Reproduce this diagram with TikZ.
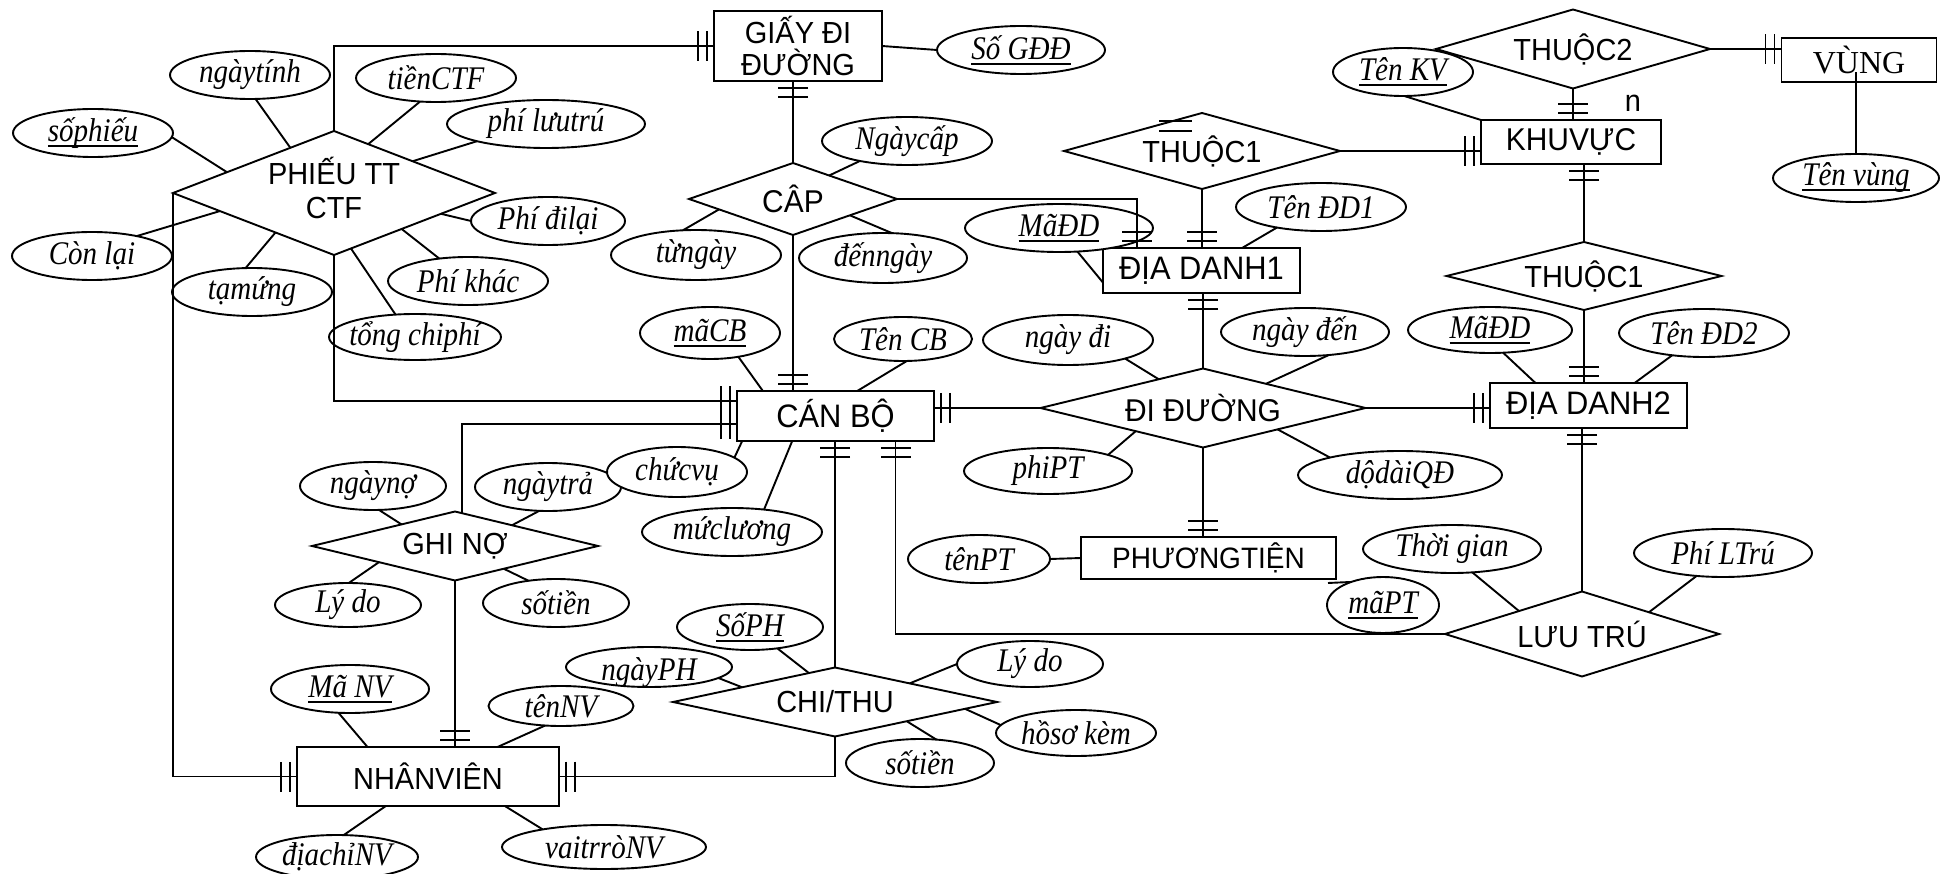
\documentclass[tikz,border=0pt]{standalone}
\usepackage{fontspec}
\setmainfont{Liberation Serif}
\setsansfont{Liberation Sans}
\newfontfamily\attrfont{Liberation Serif}[FakeStretch=0.88]
\newfontfamily\entfont{Liberation Sans}[FakeStretch=0.95]
\usetikzlibrary{shapes.geometric,decorations.markings,calc}

% attribute labels: zero width so the ellipse size comes from the options only
\newcommand\attrtxt[1]{\makebox[0pt]{#1}}
% key attributes: underlined with a heavy rule
\newcommand\keytxt[1]{\makebox[0pt]{\setbox0=\hbox{#1}\rlap{\vrule width\wd0 height -3.5pt depth 5.5pt}\box0}}
\newcommand\reltxt[1]{\makebox[0pt]{#1}}

\tikzset{
  every node/.style={inner sep=0pt, outer sep=0pt},
  sz/.style 2 args={minimum width=#1pt, minimum height=#2pt},
  ent/.style={draw, rectangle, fill=white, font=\entfont\fontsize{31.5}{33}\selectfont},
  rel/.style={draw, diamond, fill=white, font=\entfont\fontsize{30.5}{34}\selectfont},
  attr/.style={draw, ellipse, fill=white, font=\attrfont\itshape\fontsize{33}{35}\selectfont},
  mand/.style={postaction={decorate,decoration={markings,
      mark=at position -16pt with {\draw[line width=1.9pt] (0pt,-15pt) -- (0pt,15pt);},
      mark=at position -7pt with {\draw[line width=1.9pt] (0pt,-15pt) -- (0pt,15pt);}}}}
}

\begin{document}
\begin{tikzpicture}[x=1pt, y=-1pt, line width=1.9pt]
\useasboundingbox (0,0) rectangle (1952,874);
\clip (0,0) rectangle (1952,874);

% ---------- entities ----------
\node[ent, sz={168}{70}, align=center, font=\entfont\fontsize{30.5}{32}\selectfont] (G) at (798,46) {GIẤY ĐI\\ĐƯỜNG};
\node[ent, sz={197}{50}, font=\entfont\fontsize{32.5}{34}\selectfont] (CB) at (835.5,416) {CÁN BỘ};
\node[ent, sz={197}{45}, font=\entfont\fontsize{32.5}{34}\selectfont] (D1) at (1201.5,270.5) {ĐỊA DANH1};
\node[ent, sz={180}{44}] (K) at (1571,142) {KHUVỰC};
\node[ent, sz={155}{44}, font=\rmfamily\fontsize{32}{34}\selectfont] (V) at (1859,60) {VÙNG};
\node[ent, sz={197}{45}, font=\entfont\fontsize{32.5}{34}\selectfont] (D2) at (1588.5,405.5) {ĐỊA DANH2};
\node[ent, sz={255}{42}, font=\entfont\fontsize{29.5}{32}\selectfont] (PT) at (1208.5,558) {PHƯƠNGTIỆN};
\node[ent, sz={262}{59}, font=\entfont\fontsize{30.5}{32}\selectfont] (NV) at (428,776.5) {NHÂNVIÊN};

% ---------- relationships ----------
\node[rel, sz={322}{124}] (PH) at (334,193)
  {\reltxt{\renewcommand\arraystretch{1}\begin{tabular}{@{}c@{}}PHIẾU TT\\CTF\end{tabular}}};
\node[rel, sz={208}{72}, font=\entfont\fontsize{31.5}{34}\selectfont] (CAP) at (793,199) {\reltxt{CÂP}};
\node[rel, sz={276}{76}] (T1) at (1202,151) {\reltxt{THUỘC1}};
\node[rel, sz={274}{79}] (T2) at (1573,49) {\reltxt{THUỘC2}};
\node[rel, sz={275}{68}] (T1b) at (1584,276) {\reltxt{THUỘC1}};
\node[rel, sz={325}{79}, font=\entfont\fontsize{31.5}{34}\selectfont] (DI) at (1203,408) {\reltxt{ĐI ĐƯỜNG}};
\node[rel, sz={274}{85}] (LT) at (1582,634) {\reltxt{LƯU TRÚ}};
\node[rel, sz={286}{69}] (GN) at (455,546) {\reltxt{GHI NỢ}};
\node[rel, sz={324}{69}] (CT) at (835,702) {\reltxt{CHI/THU}};

\node[font=\entfont\fontsize{30.5}{34}\selectfont] (nlab) at (1633,103) {n};

% ---------- attributes ----------
\node[attr, sz={160}{48}] (ngaytinh) at (250,75) {\attrtxt{ngàytính}};
\node[attr, sz={160}{48}] (tienctf) at (436,78) {\attrtxt{tiềnCTF}};
\node[attr, sz={160}{48}] (sophieu) at (93,133) {\keytxt{sốphiếu}};
\node[attr, sz={198}{48}] (philuutru) at (546,124) {\attrtxt{phí lưutrú}};
\node[attr, sz={154}{48}] (phidilai) at (548,221) {\attrtxt{Phí đilại}};
\node[attr, sz={160}{48}] (conlai) at (92,256) {\attrtxt{Còn lại}};
\node[attr, sz={160}{48}] (tamung) at (252,292) {\attrtxt{tạmứng}};
\node[attr, sz={160}{48}] (phikhac) at (468,281) {\attrtxt{Phí khác}};
\node[attr, sz={172}{46}] (tongchiphi) at (415,337) {\attrtxt{tổng chiphí}};
\node[attr, sz={168}{48}] (sogdd) at (1021,50) {\keytxt{Số GĐĐ}};
\node[attr, sz={170}{48}] (ngaycap) at (907,141) {\attrtxt{Ngàycấp}};
\node[attr, sz={170}{50}] (tungay) at (696,255) {\attrtxt{từngày}};
\node[attr, sz={168}{50}] (denngay) at (883,258) {\attrtxt{đếnngày}};
\node[attr, sz={188}{48}] (maddone) at (1059,228) {\keytxt{MãĐD}};
\node[attr, sz={170}{48}] (tendd1) at (1321,207) {\attrtxt{Tên ĐD1}};
\node[attr, sz={140}{48}] (tenkv) at (1403,72) {\keytxt{Tên KV}};
\node[attr, sz={166}{48}] (tenvung) at (1856,178) {\keytxt{Tên vùng}};
\node[attr, sz={164}{46}] (maddtwo) at (1490,330) {\keytxt{MãĐD}};
\node[attr, sz={170}{48}] (tendd2) at (1704,333) {\attrtxt{Tên ĐD2}};
\node[attr, sz={170}{50}] (ngaydi) at (1068,340) {\attrtxt{ngày đi}};
\node[attr, sz={168}{48}] (ngayden) at (1305,332) {\attrtxt{ngày đến}};
\node[attr, sz={168}{46}] (phipt) at (1048,471) {\attrtxt{phiPT}};
\node[attr, sz={204}{48}] (dodai) at (1400,475) {\attrtxt{dộdàiQĐ}};
\node[attr, sz={142}{48}] (tenpt) at (979,559) {\attrtxt{tênPT}};
\node[attr, sz={112}{56}] (mapt) at (1383,605) {\keytxt{mãPT}};
\node[attr, sz={178}{48}] (thoigian) at (1452,549) {\attrtxt{Thời gian}};
\node[attr, sz={178}{48}] (philtru) at (1723,553) {\attrtxt{Phí LTrú}};
\node[attr, sz={140}{52}] (macb) at (710,333) {\keytxt{mãCB}};
\node[attr, sz={138}{44}] (tencb) at (903,339) {\attrtxt{Tên CB}};
\node[attr, sz={146}{48}] (ngaytra) at (548,487) {\attrtxt{ngàytrả}};
\node[attr, sz={140}{50}] (chucvu) at (677,472) {\attrtxt{chứcvụ}};
\node[attr, sz={180}{48}] (mucluong) at (732,532) {\attrtxt{mứclương}};
\node[attr, sz={146}{48}] (ngayno) at (373,486) {\attrtxt{ngàynợ}};
\node[attr, sz={146}{44}] (lydo1) at (348,605) {\attrtxt{Lý do}};
\node[attr, sz={146}{48}] (sotien1) at (556,603) {\attrtxt{sốtiền}};
\node[attr, sz={146}{46}] (soph) at (750,627) {\keytxt{SốPH}};
\node[attr, sz={166}{40}, path picture={
    \node[draw=none, fill=none, font=\attrfont\itshape\fontsize{33}{35}\selectfont]
      (ngayphtxt) at ([yshift=-6pt]path picture bounding box.center) {ngàyPH};}]
  (ngayph) at (649,667) {};
\node[attr, sz={146}{46}] (lydo2) at (1030,664) {\attrtxt{Lý do}};
\node[attr, sz={160}{46}] (hoso) at (1076,733) {\attrtxt{hồsơ kèm}};
\node[attr, sz={148}{48}] (sotien2) at (920,763) {\attrtxt{sốtiền}};
\node[attr, sz={158}{48}] (manv) at (350,689) {\keytxt{Mã NV}};
\node[attr, sz={145}{40}] (tennv) at (561,706) {\attrtxt{tênNV}};
\node[attr, sz={162}{44}] (diachi) at (337,857) {\attrtxt{địachỉNV}};
\node[attr, sz={204}{44}] (vaitro) at (604,847) {\attrtxt{vaitrròNV}};

% ---------- relationship connectors (mandatory-one marks at the entity end) ----------
\draw[mand] (PH.north) |- (G.west);
\draw[mand] (PH.west) |- (NV.west);
\draw[mand] (PH.south) |- ([yshift=15pt]CB.west);
\draw[mand] (GN.78) |- ([yshift=-8pt]CB.west);
\draw[mand] (GN.south) -- (GN.south |- NV.north);
\draw[mand] (CT.south) |- (NV.east);
\draw[mand] (CT.north) -- (CT.north |- CB.south);
\draw[mand] (LT.west) -| ([xshift=60pt]CB.south);
\draw[mand] (CAP.south) -- (CAP.south |- CB.north);
\draw[mand] (CAP.north) -- (CAP.north |- G.south);
\draw[mand] (CAP.east) -| ([xshift=-64.5pt]D1.north);
\draw[mand] (T1.south) -- (T1.south |- D1.north);
\draw[mand] (T1.east) -- (T1.east -| K.west);
\draw[mand] (T2.south) -- (T2.south |- K.north);
\draw[mand] (T2.east) -- (T2.east -| V.west);
\draw[mand] (T1b.north) -- (T1b.north |- K.south);
\draw[mand] (T1b.south) -- (T1b.south |- D2.north);
\draw[mand] (DI.north) -- (DI.north |- D1.south);
\draw[mand] (DI.west) -- (DI.west -| CB.east);
\draw[mand] (DI.east) -- (DI.east -| D2.west);
\draw[mand] (DI.south) -- (DI.south |- PT.north);
\draw[mand] (LT.north) -- (LT.north |- D2.south);

% leftover double tick above THUỘC1
\draw ([shift={(-43,-30)}]T1.center) -- ++(33,0)
      ([shift={(-43,-20)}]T1.center) -- ++(33,0);

% ---------- attribute links ----------
\draw (ngaytinh.-77) -- (PH.134);
\draw (tienctf.236) -- (PH.55);
\draw (sophieu.-3) -- (PH.169);
\draw (philuutru.194) -- (PH.22);
\draw (phidilai.180) -- (PH.-11);
\draw (conlai.24) -- (PH.189);
\draw (tamung.105) -- (PH.214);
\draw (phikhac.142) -- (PH.-28);
\draw (tongchiphi.131) -- (PH.-73);
\draw (G.east) -- (sogdd.west);
\draw (ngaycap.203) -- (CAP.33);
\draw (tungay.118) -- (CAP.188);
\draw (denngay.70) -- (CAP.-16);
\draw (maddone.-52) -- (D1.187);
\draw (tendd1.205) -- (D1.29);
\draw (tenkv.-87) -- (K.north west);
\draw (tenvung.north) -- ($(tenvung.north |- V.center)+(0,12)$);
\draw (maddtwo.-60) -- (D2.157);
\draw (tendd2.215) -- (D2.26);
\draw (ngaydi.-18) -- (DI.147);
\draw (ngayden.-44) -- (DI.21);
\draw (phipt.15) -- (DI.199);
\draw (dodai.166) -- (DI.-16);
\draw (tenpt.east) -- (PT.west);
\draw (mapt.144) -- ([shift={(-8,4)}]PT.south east);
\draw (thoigian.-49) -- (LT.160);
\draw (philtru.221) -- (LT.18);
\draw (macb.-40) -- (CB.161);
\draw (tencb.-80) -- (CB.49);
\draw (chucvu.14) -- (CB.195);
\draw (mucluong.35) -- (CB.210);
\draw (ngayno.-76) -- (GN.158);
\draw (ngaytra.-110) -- (GN.20);
\draw (lydo1.88) -- (GN.192);
\draw (sotien1.141) -- (GN.-25);
\draw (soph.-38) -- (CT.132);
\draw (ngayph.-9) -- (CT.171);
\draw (lydo2.180) -- (CT.14);
\draw (hoso.174) -- (CT.-3);
\draw (sotien2.55) -- (CT.-15);
\draw (manv.-116) -- (NV.154);
\draw (tennv.-129) -- (NV.23);
\draw (diachi.73) -- (NV.215);
\draw (vaitro.164) -- (NV.-21);
\end{tikzpicture}
\end{document}
